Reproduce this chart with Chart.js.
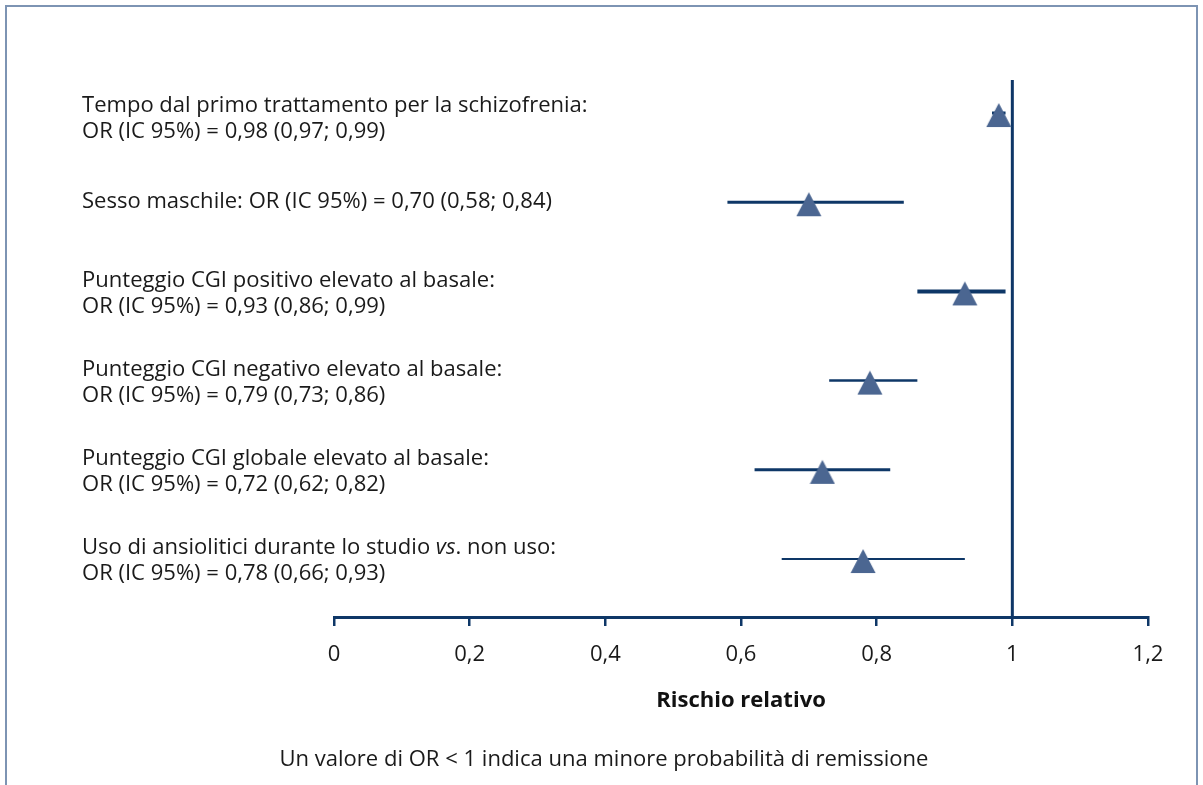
<!DOCTYPE html>
<html>
<head>
<meta charset="utf-8">
<script src="https://cdn.jsdelivr.net/npm/chart.js@4/dist/chart.umd.min.js"></script>
<style>
  html, body { margin: 0; padding: 0; background: #fff; overflow: hidden; }
  #wrap { position: relative; width: 1203px; height: 785px; }
  #frame { position: absolute; left: 5px; top: 5px; width: 1193px; height: 820px;
           border-left: 2px solid #7d94b3; border-top: 2px solid #7d94b3; border-right: 2px solid #7d94b3; box-sizing: border-box; }
  canvas { position: absolute; left: 0; top: 0; }
</style>
</head>
<body>
<div id="wrap">
  <div id="frame"></div>
  <canvas id="c" width="1203" height="785"></canvas>
</div>
<script>
// ---- data ----
const labels = [
  ["Tempo dal primo trattamento per la schizofrenia:", "OR (IC 95%) = 0,98 (0,97; 0,99)"],
  ["Sesso maschile: OR (IC 95%) = 0,70 (0,58; 0,84)"],
  ["Punteggio CGI positivo elevato al basale:", "OR (IC 95%) = 0,93 (0,86; 0,99)"],
  ["Punteggio CGI negativo elevato al basale:", "OR (IC 95%) = 0,79 (0,73; 0,86)"],
  ["Punteggio CGI globale elevato al basale:", "OR (IC 95%) = 0,72 (0,62; 0,82)"],
  ["Uso di ansiolitici durante lo studio _vs_. non uso:", "OR (IC 95%) = 0,78 (0,66; 0,93)"]
];
const oddsRatio = [0.98, 0.70, 0.93, 0.79, 0.72, 0.78];
const ciLow     = [0.97, 0.58, 0.86, 0.73, 0.62, 0.66];
const ciHigh    = [0.99, 0.84, 0.99, 0.86, 0.82, 0.93];
const xTicks    = [0, 0.2, 0.4, 0.6, 0.8, 1, 1.2];
const refValue  = 1;
const xTitle    = "Rischio relativo";
const footnote  = "Un valore di OR < 1 indica una minore probabilità di remissione";

// ---- styles ----
const NAVY = "#0e3767";
const TRI = "#4b6691";
const FONT = "'Open Sans', Lato, sans-serif";
const whiskerWidths = [3, 3, 4, 2.5, 3, 2.2];

// pick a font size so the first label is about as wide as in the reference
function fitSize() {
  const g = document.createElement('canvas').getContext('2d');
  g.font = '20px ' + FONT;
  const w = g.measureText(labels[0][0]).width;
  return Math.max(16, Math.min(24, 20 * 506 / w));
}
const FS = fitSize();

// custom triangle marker (apex above, slightly below-centered)
function makeTriangle() {
  const cv = document.createElement('canvas');
  cv.width = 26; cv.height = 30;
  const g = cv.getContext('2d');
  g.fillStyle = TRI;
  g.beginPath();
  g.moveTo(13, 5);
  g.lineTo(25.5, 29);
  g.lineTo(0.5, 29);
  g.closePath();
  g.fill();
  return cv;
}
const triangle = makeTriangle();

const yMin = -0.37, yMax = 5.65;

const datasets = [];
labels.forEach((l, i) => {
  datasets.push({
    type: 'line',
    data: [{x: ciLow[i], y: i}, {x: ciHigh[i], y: i}],
    borderColor: NAVY,
    borderWidth: whiskerWidths[i],
    pointRadius: 0,
    order: 2
  });
});
datasets.push({
  type: 'line',
  data: [{x: refValue, y: yMin}, {x: refValue, y: yMax}],
  borderColor: NAVY,
  borderWidth: 3,
  pointRadius: 0,
  order: 3
});
datasets.push({
  type: 'scatter',
  data: oddsRatio.map((v, i) => ({x: v, y: i})),
  pointStyle: triangle,
  order: 1
});

const labelPlugin = {
  id: 'rowLabels',
  afterDraw(chart) {
    const ctx = chart.ctx;
    const ys = chart.scales.y;
    const x0 = ys.left;
    ctx.save();
    ctx.fillStyle = "#1a1a1a";
    ctx.textBaseline = 'middle';
    ctx.textAlign = 'left';
    labels.forEach((lines, i) => {
      const yc = ys.getPixelForValue(i);
      const offs = lines.length === 1 ? [0] : (i === 0 ? [-7, 19] : [-11, 15]);
      lines.forEach((line, k) => {
        const parts = line.split('_');
        let x = x0;
        parts.forEach((p, j) => {
          ctx.font = (j % 2 === 1 ? 'italic ' : '') + FS + 'px ' + FONT;
          ctx.fillText(p, x, yc + offs[k]);
          x += ctx.measureText(p).width;
        });
      });
    });
    // footnote
    ctx.font = FS + 'px ' + FONT;
    ctx.textAlign = 'center';
    ctx.fillText(footnote, 604, 760);
    ctx.restore();
  }
};

new Chart(document.getElementById('c'), {
  type: 'scatter',
  data: { datasets },
  options: {
    responsive: false,
    animation: false,
    layout: { padding: { left: 82, right: 55, top: 80, bottom: 0 } },
    plugins: { legend: { display: false }, tooltip: { enabled: false } },
    scales: {
      x: {
        type: 'linear',
        min: 0, max: 1.2,
        afterFit: s => { s.height = 168; },
        afterBuildTicks: s => { s.ticks = xTicks.map(v => ({value: v})); },
        ticks: {
          padding: 15,
          color: "#1a1a1a",
          font: { family: FONT, size: FS },
          callback: v => String(v).replace('.', ',')
        },
        grid: { drawOnChartArea: false, drawTicks: true, tickLength: 9, color: NAVY, lineWidth: 2.5 },
        border: { display: true, color: NAVY, width: 3 },
        title: {
          display: true, text: xTitle, color: "#111",
          font: { family: FONT, size: FS, weight: 'bold' },
          padding: { top: 0, bottom: 71 }
        }
      },
      y: {
        type: 'linear',
        min: yMin, max: yMax, reverse: true,
        afterFit: s => { s.width = 252; },
        ticks: { display: false },
        grid: { display: false },
        border: { display: false }
      }
    }
  },
  plugins: [labelPlugin]
});
</script>
</body>
</html>
